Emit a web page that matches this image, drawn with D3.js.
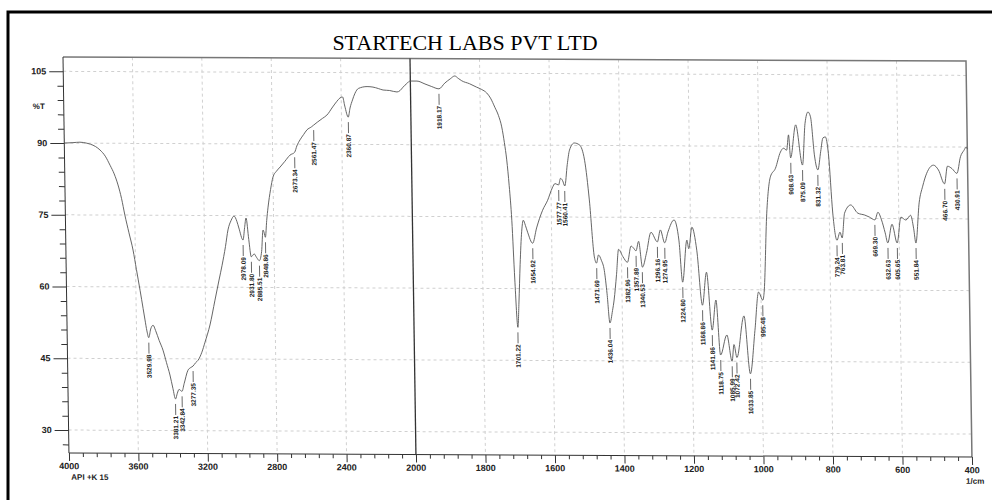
<!DOCTYPE html>
<html>
<head>
<meta charset="utf-8">
<script src="https://cdnjs.cloudflare.com/ajax/libs/d3/7.8.5/d3.min.js"></script>
<style>
  body { margin: 0; background: #fff; }
  svg text { font-family: "Liberation Sans", Arial, sans-serif; }
</style>
</head>
<body>
<svg id="chart" width="992" height="500"></svg>
<script>
// spectrum (1/cm, %T)
var wavenumbers = [4000,3950,3910,3870,3850,3820,3795,3765,3738,3715,3694,3675,3657,3635,3613,3595,3576,3560,3550,3540,
  3530,3518,3504,3490,3470,3449,3430,3411,3395,3381,3370,3360,3343,3330,3307,3290,3277,3262,3248,3225,
  3206,3176,3145,3120,3101,3080,3064,3045,3028,3012,3001,2978,2968,2959,2945,2932,2915,2902,2886,2872,
  2862,2856,2849,2840,2831,2815,2800,2780,2758,2730,2700,2673,2660,2641,2620,2600,2575,2561,2540,2510,
  2484,2450,2425,2407,2392,2380,2361,2350,2335,2320,2300,2250,2216,2185,2158,2120,2078,2060,2043,2020,
  2002,1981,1958,1940,1918,1901,1885,1872,1862,1852,1830,1810,1795,1781,1770,1758,1748,1739,1732,1726,
  1720,1714,1708,1701,1697,1692,1686,1681,1675,1669,1655,1643,1625,1610,1596,1588,1578,1572,1566,1560,
  1552,1545,1531,1516,1502,1490,1478,1472,1466,1458,1450,1443,1436,1428,1423,1415,1408,1396,1383,1372,
  1365,1358,1350,1340,1328,1314,1296,1287,1275,1265,1247,1234,1225,1211,1206,1196,1183,1169,1156,1142,
  1130,1119,1100,1086,1080,1072,1050,1034,1019,1007,995,991,980,968,953,938,929,920,914,909,
  893,875,866,857,850,840,831,822,815,808,800,790,779,770,764,756,738,718,698,685,
  669,660,650,640,633,620,606,594,580,566,558,552,541,530,518,498,484,467,458,445,
  431,420,410,403,400];
var transmittance = [90.0,90.1,90.2,90.0,89.8,89.3,88.6,87.3,85.4,83.6,81.3,78.5,75.0,71.3,67.7,63.6,59.3,55.5,53.1,50.8,
  49.4,51.2,52.0,50.9,48.8,46.8,44.2,41.6,38.8,36.6,37.8,38.6,38.2,39.8,42.6,43.2,43.5,44.2,44.7,46.4,
  48.5,52.1,57.3,61.5,64.6,68.5,72.0,74.0,74.9,73.8,72.4,69.9,72.5,74.5,70.0,66.4,67.0,66.3,65.6,67.5,
  72.0,71.5,70.5,74.0,76.8,80.5,83.1,84.3,85.2,86.4,87.7,88.3,89.6,90.9,92.0,93.0,93.6,94.0,94.6,95.4,
  96.1,97.8,99.0,99.7,99.9,98.0,95.7,97.6,99.3,100.7,101.7,102.1,102.0,101.7,101.4,101.3,101.0,101.3,102.0,102.8,
  103.3,103.3,102.7,102.2,101.7,102.9,103.8,104.4,103.9,103.4,102.8,102.1,101.6,100.9,99.8,97.9,96.2,93.8,90.5,86.9,
  81.5,74.3,62.0,51.9,57.0,65.0,72.0,74.3,73.2,71.8,69.5,72.7,76.4,78.5,81.1,82.0,81.7,83.1,82.6,81.5,
  86.0,89.0,90.5,90.1,86.9,78.6,66.7,65.4,67.1,66.0,63.9,59.0,52.9,55.5,57.7,63.0,68.3,66.8,65.6,69.0,
  68.6,68.0,70.0,64.6,67.5,71.9,69.9,72.4,69.7,72.0,74.5,70.3,61.5,70.3,68.5,73.0,68.2,56.7,63.6,51.5,
  57.8,46.3,50.5,45.0,48.5,45.8,54.5,42.4,51.5,59.5,57.8,59.4,76.0,83.6,85.4,88.8,89.6,89.2,92.4,87.6,
  94.5,86.1,94.8,97.2,96.2,88.0,85.1,89.0,91.8,92.0,88.5,76.1,70.4,72.1,70.9,76.1,77.8,76.1,75.7,75.3,
  74.7,76.3,74.7,72.0,69.9,73.8,69.9,75.3,74.7,75.7,73.0,69.9,78.3,81.8,84.5,86.2,85.2,82.3,86.0,85.5,
  84.5,88.0,89.3,90.0,89.6];

// peak table printed by the instrument
var peakLabels = ["3529.98","3381.21","3342.84","3277.35","2978.09","2931.80","2885.51","2848.86","2673.34","2561.47",
  "2360.87","1918.17","1701.22","1654.92","1577.77","1560.41","1471.69","1436.04","1382.96","1357.89",
  "1340.53","1296.16","1274.95","1224.80","1168.86","1141.86","1118.75","1085.99","1072.42","1033.85",
  "995.48","908.63","875.09","831.32","779.24","763.81","669.30","632.63","605.65","551.84",
  "466.70","430.91"];

var xMajor = [4000,3600,3200,2800,2400,2000,1800,1600,1400,1200,1000,800,600,400];
var yMajor = [105,90,75,60,45,30];

var W = 903, H = 396;

var svg = d3.select('#chart');

// scan frame
svg.append('path')
  .attr('d', 'M8,1000 V12 H1100')
  .attr('fill', 'none')
  .attr('stroke', '#000')
  .attr('stroke-width', 3);

svg.append('text')
  .attr('x', 465)
  .attr('y', 50)
  .attr('text-anchor', 'middle')
  .style('font-family', '"Liberation Serif", "Times New Roman", serif')
  .style('font-size', '22px')
  .attr('fill', '#000')
  .text('STARTECH LABS PVT LTD');

// the scan is slightly skewed, so is the plot
var g = svg.append('g')
  .attr('transform', 'matrix(1,0.0045,0.015,1,63,57)');

// the instrument doubles the scale below 2000
var xScale = d3.scaleLinear()
  .domain([4000, 2000, 400])
  .range([0, 347, W]);

var yScale = d3.scaleLinear()
  .domain([25.2, 108])
  .range([H, 0]);

// grid
g.selectAll('.vgrid')
  .data(xMajor.filter(d => d != 4000 && d != 400 && d != 2000))
  .enter().append('line')
  .attr('x1', d => xScale(d)).attr('x2', d => xScale(d))
  .attr('y1', 0).attr('y2', H)
  .attr('stroke', '#d0d0d0')
  .attr('stroke-dasharray', '3,3');

g.selectAll('.hgrid')
  .data(yMajor)
  .enter().append('line')
  .attr('x1', 0).attr('x2', W)
  .attr('y1', d => yScale(d)).attr('y2', d => yScale(d))
  .attr('stroke', '#d0d0d0')
  .attr('stroke-dasharray', '3,3');

// frame top/right
g.append('path')
  .attr('d', `M0,0 H${W} V${H}`)
  .attr('fill', 'none')
  .attr('stroke', '#777')
  .attr('stroke-width', 1.5);

// 2000 divider
g.append('line')
  .attr('x1', xScale(2000)).attr('x2', xScale(2000))
  .attr('y1', 0).attr('y2', H)
  .attr('stroke', '#333')
  .attr('stroke-width', 1.3);

// y axis
var yMinor = d3.range(27, 106, 3);
var yAxis = d3.axisLeft(yScale)
  .tickValues(yMinor)
  .tickSize(6)
  .tickFormat('');
var ya = g.append('g').call(yAxis);
ya.selectAll('.tick line').filter(d => yMajor.indexOf(d) >= 0).attr('x2', -14);
ya.selectAll('path, line').attr('stroke', '#333');
ya.select('.domain').attr('d', `M0,0V${H}`);

g.selectAll('.ylab')
  .data(yMajor)
  .enter().append('text')
  .attr('x', -17)
  .attr('y', d => yScale(d))
  .attr('dy', '0.35em')
  .attr('text-anchor', 'end')
  .style('font-size', '9px')
  .style('font-weight', 'bold')
  .attr('fill', '#222')
  .text(d => d);

g.append('text')
  .attr('x', -25)
  .attr('y', yScale(97.7))
  .attr('dy', '0.35em')
  .attr('text-anchor', 'middle')
  .style('font-size', '8px')
  .style('font-weight', 'bold')
  .attr('fill', '#222')
  .text('%T');

// x axis
var xMinor = d3.range(4000, 2000, -80).concat(d3.range(2000, 399, -40));
var xAxis = d3.axisBottom(xScale)
  .tickValues(xMinor)
  .tickSize(4)
  .tickFormat('');
var xa = g.append('g')
  .attr('transform', `translate(0,${H})`)
  .call(xAxis);
xa.selectAll('.tick line').filter(d => xMajor.indexOf(d) >= 0).attr('y2', 8);
xa.selectAll('path, line').attr('stroke', '#333');
xa.select('.domain').attr('d', `M0,0H${W}`);

g.selectAll('.xlab')
  .data(xMajor)
  .enter().append('text')
  .attr('x', d => xScale(d))
  .attr('y', H + 13)
  .attr('dy', '0.35em')
  .attr('text-anchor', 'middle')
  .style('font-size', '9px')
  .style('font-weight', 'bold')
  .attr('fill', '#222')
  .text(d => d);

g.append('text')
  .attr('x', 2)
  .attr('y', H + 24)
  .attr('dy', '0.35em')
  .style('font-size', '8px')
  .style('font-weight', 'bold')
  .attr('fill', '#222')
  .text('API +K 15');

g.append('text')
  .attr('x', W + 12)
  .attr('y', H + 24)
  .attr('dy', '0.35em')
  .attr('text-anchor', 'end')
  .style('font-size', '8px')
  .style('font-weight', 'bold')
  .attr('fill', '#222')
  .text('1/cm');

// spectrum
var spectrum = wavenumbers.map((w, i) => ({ w: w, t: transmittance[i] }));

var line = d3.line()
  .x(d => xScale(d.w))
  .y(d => yScale(d.t))
  .curve(d3.curveMonotoneX);

g.append('path')
  .datum(spectrum)
  .attr('d', line)
  .attr('fill', 'none')
  .attr('stroke', '#555')
  .attr('stroke-width', 0.9);

// peak labels hang under each dip
var peaks = peakLabels.map(s => {
  var w = +s;
  var near = spectrum.reduce((a, b) => Math.abs(b.w - w) < Math.abs(a.w - w) ? b : a);
  return { w: w, t: near.t, label: s };
});

var pk = g.selectAll('.peak')
  .data(peaks)
  .enter().append('g')
  .attr('transform', d => `translate(${xScale(d.w)},${yScale(d.t)})`);

pk.append('line')
  .attr('y1', 5).attr('y2', 16)
  .attr('stroke', '#444')
  .attr('stroke-width', 0.8);

pk.append('text')
  .attr('transform', 'translate(0,17) rotate(-90)')
  .attr('text-anchor', 'end')
  .attr('dy', '0.35em')
  .style('font-size', '6.5px')
  .style('font-weight', 'bold')
  .attr('fill', '#222')
  .text(d => d.label);
</script>
</body>
</html>
